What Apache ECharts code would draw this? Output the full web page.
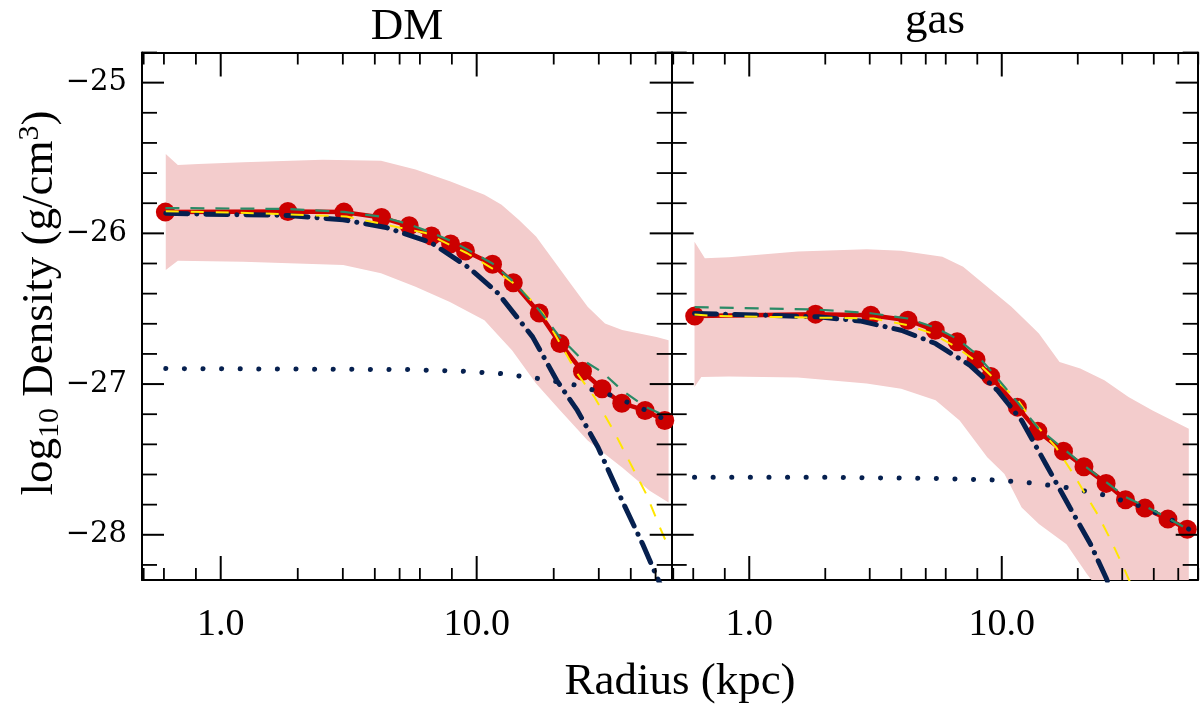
<!DOCTYPE html>
<html><head><meta charset="utf-8">
<script src="https://cdn.jsdelivr.net/npm/echarts@6/dist/echarts.min.js"></script>
<style>html,body{margin:0;padding:0;background:#fff}#c{width:1200px;height:706px}</style>
</head><body><div id="c"></div>
<script>
// ---------------- data ----------------
const panelTitles = ['DM', 'gas'];
const radiusKpc = [0.608, 1.83, 3.03, 4.25, 5.45, 6.66, 7.91, 9.04, 11.53, 13.9, 17.56, 21.16, 25.9, 30.9, 36.9, 45.5, 54.3];

const dmDensity  = [-25.859, -25.855, -25.859, -25.895, -25.95, -26.017, -26.07, -26.117, -26.205, -26.328, -26.529, -26.731, -26.915, -27.031, -27.127, -27.175, -27.242];
const gasDensity = [-26.549, -26.536, -26.543, -26.576, -26.643, -26.72, -26.838, -26.949, -27.153, -27.313, -27.446, -27.548, -27.659, -27.768, -27.823, -27.896, -27.963];

const dmTotalFit  = [-25.832, -25.838, -25.858, -25.89, -25.94, -25.995, -26.05, -26.1, -26.2, -26.32, -26.51, -26.69, -26.84, -26.92, -27.04, -27.15, -27.21];
const gasTotalFit = [-26.49, -26.505, -26.53, -26.565, -26.625, -26.70, -26.80, -26.91, -27.12, -27.29, -27.43, -27.54, -27.65, -27.75, -27.81, -27.89, -27.96];

const dmBandUpperR = [0.610, 0.680, 0.819, 1.225, 2.50, 4.23, 5.77, 7.86, 10.72, 12.51, 14.6, 17.06, 19.92, 23.25, 27.14, 31.72, 37.02, 43.2, 50.4, 56.2];
const dmBandUpper  = [-25.473, -25.546, -25.539, -25.529, -25.511, -25.519, -25.577, -25.655, -25.744, -25.81, -25.91, -26.021, -26.176, -26.332, -26.487, -26.598, -26.642, -26.664, -26.687, -26.709];
const dmBandLowerR = [0.610, 0.680, 1.225, 3.009, 4.23, 5.77, 7.86, 10.72, 12.13, 13.74, 17.06, 21.2, 27.14, 37.02, 47.4, 56.2];
const dmBandLower  = [-26.243, -26.181, -26.188, -26.21, -26.265, -26.354, -26.456, -26.576, -26.676, -26.776, -26.997, -27.175, -27.375, -27.553, -27.708, -27.786];

const gasBandUpperR = [0.607, 0.667, 0.831, 1.557, 2.917, 3.997, 5.82, 7.03, 8.76, 10.92, 13.18, 14.03, 16.94, 20.46, 25.49, 31.76, 39.56, 55.05];
const gasBandUpper  = [-26.055, -26.165, -26.158, -26.121, -26.105, -26.115, -26.155, -26.221, -26.354, -26.487, -26.62, -26.664, -26.853, -26.897, -26.975, -27.086, -27.175, -27.297];
const gasBandLowerR = [0.607, 0.646, 0.831, 1.557, 2.917, 3.997, 5.47, 6.81, 8.76, 10.25, 11.99, 14.03, 18.04, 21.77, 24.49, 30.0, 40.0, 55.05];
const gasBandLower  = [-27.02, -26.953, -26.949, -26.957, -26.997, -27.031, -27.108, -27.242, -27.486, -27.597, -27.819, -27.929, -28.063, -28.262, -28.373, -28.55, -28.75, -28.95];

const dmDashDotR = [0.610, 0.832, 1.834, 3.009, 4.43, 6.63, 9.32, 12.13, 16.54, 20.54, 24.74, 29.78, 37.02, 44.55, 50.43, 57.8];
const dmDashDot  = [-25.866, -25.872, -25.881, -25.910, -25.961, -26.061, -26.228, -26.398, -26.687, -26.975, -27.175, -27.419, -27.774, -28.063, -28.274, -28.5];
const dmDottedR  = [0.610, 5.42, 8.9, 12.51, 17.6, 24.74, 33.7, 45.97, 53.67];
const dmDotted   = [-26.897, -26.904, -26.915, -26.931, -26.964, -27.009, -27.075, -27.175, -27.230];
const dmYellowR  = [0.610, 1.346, 3.10, 6.33, 9.18, 11.76, 14.6, 18.16, 24.74, 28.87, 34.78, 39.35, 45.97, 52.0, 56.23];
const dmYellow   = [-25.853, -25.866, -25.888, -25.998, -26.132, -26.243, -26.354, -26.531, -26.931, -27.087, -27.33, -27.508, -27.73, -27.952, -28.085];

const gasDashDotR = [0.607, 1.137, 1.88, 2.743, 3.997, 5.47, 7.49, 9.625, 11.99, 14.94, 18.61, 22.48, 25.88, 30.0];
const gasDashDot  = [-26.531, -26.543, -26.554, -26.581, -26.643, -26.731, -26.876, -27.042, -27.242, -27.530, -27.819, -28.063, -28.285, -28.55];
const gasDottedR  = [0.607, 2.0, 5.47, 9.32, 13.18, 18.64, 25.49, 36.0, 47.8, 56.7];
const gasDotted   = [-27.619, -27.619, -27.626, -27.636, -27.656, -27.69, -27.736, -27.814, -27.907, -27.974];
const gasYellowR  = [0.607, 0.756, 3.107, 4.256, 5.297, 6.6, 7.98, 9.04, 11.63, 13.18, 16.41, 19.21, 23.93, 27.15, 30.78, 35.0];
const gasYellow   = [-26.539, -26.549, -26.565, -26.61, -26.664, -26.754, -26.854, -26.942, -27.109, -27.242, -27.42, -27.597, -27.863, -28.041, -28.24, -28.45];

// axes
const xRangeDM  = [0.4926, 57.8];
const xRangeGas = [0.4930, 59.7];
const yRange = [-28.3, -24.8];
const xMajorTicks = [1, 10];
const xMinorTicksDM  = [0.5, 0.6, 0.8, 2, 3, 4, 5, 6, 8, 20, 30, 40, 50];
const xMinorTicksGas = [0.5, 0.6, 0.8, 2, 3, 4, 5, 6, 8, 20, 30, 40, 50, 60];
const yMajorTicks = [-28, -27, -26, -25];
const yMinorTicks = [-28.2, -27.8, -27.6, -27.4, -27.2, -26.8, -26.6, -26.4, -26.2, -25.8, -25.6, -25.4, -25.2, -24.8];

// ---------------- chart ----------------
const C = {
  red: '#cc0000', band: '#f3cccc', navy: '#06204f', yellow: '#ffe600', green: '#2a8a66'
};
const zip = (a, b) => a.map((v, i) => [v, b[i]]);
const SERIF = 'Liberation Serif';

function xAx(gi, pos, range, showLabel) {
  return {
    type: 'log', logBase: 10, gridIndex: gi, position: pos, min: range[0], max: range[1],
    axisLine: { show: true, onZero: false, lineStyle: { color: '#000', width: 2 } },
    axisTick: { show: false }, splitLine: { show: false },
    minorTick: { show: false }, minorSplitLine: { show: false },
    axisLabel: {
      show: showLabel, margin: 26, fontFamily: SERIF, fontSize: 38, color: '#000',
      showMinLabel: false, showMaxLabel: false,
      formatter: v => { const l = Math.log10(v); return Math.abs(l - Math.round(l)) < 1e-6 ? Number(v).toFixed(1) : ''; }
    }
  };
}
function yAx(gi, pos, showLabel) {
  return {
    type: 'value', gridIndex: gi, position: pos, min: yRange[0], max: yRange[1], interval: 0.1,
    axisLine: { show: true, onZero: false, lineStyle: { color: '#000', width: 2 } },
    axisTick: { show: false }, splitLine: { show: false },
    axisLabel: {
      show: showLabel, margin: 15, fontFamily: 'DejaVu Serif', fontSize: 29, color: '#000',
      formatter: v => { const r = Math.round(v); return Math.abs(v - r) < 1e-6 ? (r < 0 ? '\u2212' + (-r) : String(r)) : ''; }
    }
  };
}

function bandSeries(ai, upR, up, loR, lo) {
  return {
    type: 'custom', xAxisIndex: ai.x, yAxisIndex: ai.y, z: 1, silent: true, clip: true,
    data: [[upR[0], up[0]]],
    renderItem: (params, api) => {
      const pts = [];
      upR.forEach((r, i) => pts.push(api.coord([r, up[i]])));
      for (let i = loR.length - 1; i >= 0; i--) pts.push(api.coord([loR[i], lo[i]]));
      const cs = params.coordSys;
      return {
        type: 'group',
        clipPath: { type: 'rect', shape: { x: cs.x, y: cs.y, width: cs.width, height: cs.height } },
        children: [{ type: 'polygon', shape: { points: pts }, style: { fill: C.band } }]
      };
    }
  };
}

function tickSeries(ai, xMinor, xRef) {
  return {
    type: 'custom', xAxisIndex: ai.x, yAxisIndex: ai.y, z: 20, silent: true, clip: false,
    data: [[xRef, -26]],
    renderItem: (params, api) => {
      const cs = params.coordSys;
      const L = cs.x, R = cs.x + cs.width, T = cs.y, B = cs.y + cs.height;
      const kids = [];
      const ln = (x1, y1, x2, y2, w) => kids.push({ type: 'line', shape: { x1, y1, x2, y2 }, style: { stroke: '#000', lineWidth: w } });
      xMajorTicks.forEach(v => { const x = api.coord([v, -26])[0]; ln(x, B, x, B - 24, 2); ln(x, T, x, T + 24, 2); });
      xMinor.forEach(v => { const x = api.coord([v, -26])[0]; ln(x, B, x, B - 12, 1.8); ln(x, T, x, T + 12, 1.8); });
      yMajorTicks.forEach(v => { const y = api.coord([xRef, v])[1]; ln(L, y, L + 22, y, 2); ln(R, y, R - 22, y, 2); });
      yMinorTicks.forEach(v => { const y = api.coord([xRef, v])[1]; ln(L, y, L + 15, y, 1.8); ln(R, y, R - 15, y, 1.8); });
      return { type: 'group', children: kids };
    }
  };
}

function lineS(ai, data, style, z) {
  return Object.assign({
    type: 'line', xAxisIndex: ai.x, yAxisIndex: ai.y, data, showSymbol: false, symbol: 'none',
    z, silent: true, clip: true, smooth: false
  }, style);
}

function panelSeries(ai, d) {
  return [
    bandSeries(ai, d.upR, d.up, d.loR, d.lo),
    lineS(ai, zip(radiusKpc, d.dens), {
      symbol: 'circle', showSymbol: true, symbolSize: 19,
      itemStyle: { color: C.red }, lineStyle: { color: C.red, width: 4.5 }
    }, 3),
    lineS(ai, zip(d.ddR, d.dd), { lineStyle: { color: C.navy, width: 5, type: [22, 9, 0.1, 9], cap: 'round' } }, 4),
    lineS(ai, zip(d.dotR, d.dot), { lineStyle: { color: C.navy, width: 5, type: [0.1, 18.5], cap: 'round' } }, 4),
    lineS(ai, zip(d.yR, d.y), { lineStyle: { color: C.yellow, width: 2, type: [13, 12] } }, 5),
    lineS(ai, zip(radiusKpc, d.fit), { lineStyle: { color: C.green, width: 2.2, type: [14, 11] } }, 6),
    tickSeries(ai, d.xMinor, d.xRef)
  ];
}

const chart = echarts.init(document.getElementById('c'), null, { renderer: 'canvas' });
const option = {
  animation: false,
  backgroundColor: '#fff',
  grid: [
    { left: 142, top: 52.5, width: 529.7, height: 527.5 },
    { left: 671.7, top: 52.5, width: 526, height: 527.5 }
  ],
  xAxis: [
    xAx(0, 'bottom', xRangeDM, true), xAx(0, 'top', xRangeDM, false),
    xAx(1, 'bottom', xRangeGas, true), xAx(1, 'top', xRangeGas, false)
  ],
  yAxis: [
    yAx(0, 'left', true), yAx(0, 'right', false),
    yAx(1, 'left', false), yAx(1, 'right', false)
  ],
  series: [].concat(
    panelSeries({ x: 0, y: 0 }, {
      upR: dmBandUpperR, up: dmBandUpper, loR: dmBandLowerR, lo: dmBandLower,
      dens: dmDensity, fit: dmTotalFit, ddR: dmDashDotR, dd: dmDashDot,
      dotR: dmDottedR, dot: dmDotted, yR: dmYellowR, y: dmYellow, xMinor: xMinorTicksDM, xRef: 1
    }),
    panelSeries({ x: 2, y: 2 }, {
      upR: gasBandUpperR, up: gasBandUpper, loR: gasBandLowerR, lo: gasBandLower,
      dens: gasDensity, fit: gasTotalFit, ddR: gasDashDotR, dd: gasDashDot,
      dotR: gasDottedR, dot: gasDotted, yR: gasYellowR, y: gasYellow, xMinor: xMinorTicksGas, xRef: 1
    })
  ),
  graphic: [
    { type: 'text', x: 407, y: 27, style: { text: panelTitles[0], font: '45px "Liberation Serif"', fill: '#000', align: 'center', verticalAlign: 'middle' } },
    { type: 'text', x: 935, y: 21, style: { text: panelTitles[1], font: '45px "Liberation Serif"', fill: '#000', align: 'center', verticalAlign: 'middle' } },
    { type: 'text', x: 680, y: 682, style: { text: 'Radius (kpc)', font: '45px "Liberation Serif"', fill: '#000', align: 'center', verticalAlign: 'middle' } },
    {
      type: 'text', x: 40, y: 303, rotation: Math.PI / 2,
      style: {
        text: '{a|log}{b|10}{a| Density (g/cm}{c|3}{a|)}',
        align: 'center', verticalAlign: 'middle', fill: '#000',
        rich: {
          a: { fontFamily: SERIF, fontSize: 45, lineHeight: 50, verticalAlign: 'middle', fill: '#000' },
          b: { fontFamily: SERIF, fontSize: 30, lineHeight: 24, verticalAlign: 'bottom', fill: '#000' },
          c: { fontFamily: SERIF, fontSize: 30, lineHeight: 24, verticalAlign: 'top', fill: '#000' }
        }
      }
    }
  ]
};
chart.setOption(option);
</script>
</body></html>
